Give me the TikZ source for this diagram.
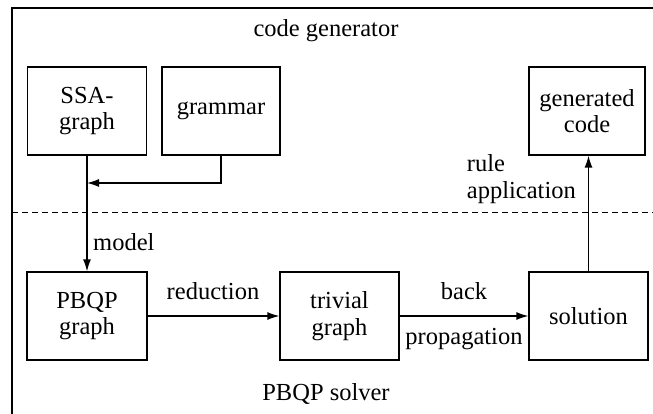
\documentclass[tikz,border=0pt]{standalone}
\usepackage{fontspec}
\setmainfont{Liberation Serif}
\usetikzlibrary{arrows.meta}
\begin{document}
\begin{tikzpicture}[x=1pt,y=-1pt,
  font=\rmfamily\fontsize{24.5}{26.5}\selectfont,
  block/.style={draw,line width=1.3pt,minimum width=119pt,minimum height=88pt,
    align=center,inner sep=2pt},
  lbl/.style={inner sep=0pt},
  flow/.style={line width=1.3pt,-{Latex[length=12pt,width=8pt]}}]
\useasboundingbox (0,0) rectangle (653,414);
\clip (0,0) rectangle (653,414);

% outer frame and the dashed divider between the two parts
\draw[line width=1.6pt] (12,440) -- (12,8) -- (680,8);
\draw[line width=1pt,dash pattern=on 6pt off 4pt] (12,213) -- (660,213);

\node[lbl] (titletop) at (326,31) {code generator};
\node[lbl] (titlebot) at (326,394) {PBQP solver};

% code generator part
\node[block] (ssa) at (87,111) {SSA-\\graph};
\node[block,minimum width=118pt] (gram) at (221,111) {grammar};
\node[block,minimum width=116pt] (gen) at (587,111) {generated\\code};

% PBQP solver part
\node[block,minimum width=120pt] (pbqp) at (87,316) {PBQP\\graph};
\node[block] (triv) at (339.5,316) {trivial\\graph};
\node[block] (sol) at (588.5,316) {solution};

% connectors
\coordinate (join) at (87,183);
\draw[flow] (gram.south) |- (join);
\draw[flow] (ssa.south) -- (pbqp.north);
\node[lbl,anchor=west] (model) at (93,242) {model};

\draw[flow] (pbqp.east) -- (triv.west);
\node[lbl] (red) at (213,291) {reduction};

\draw[flow] (triv.east) -- (sol.west);
\node[lbl] (back) at (464,291) {back};
\node[lbl] (prop) at (464,339) {propagation};

\draw[flow] (sol.north) -- (sol.north |- gen.south);
\node[lbl,anchor=east,align=left] (rule) at (576,179) {rule\\application};
\end{tikzpicture}
\end{document}
